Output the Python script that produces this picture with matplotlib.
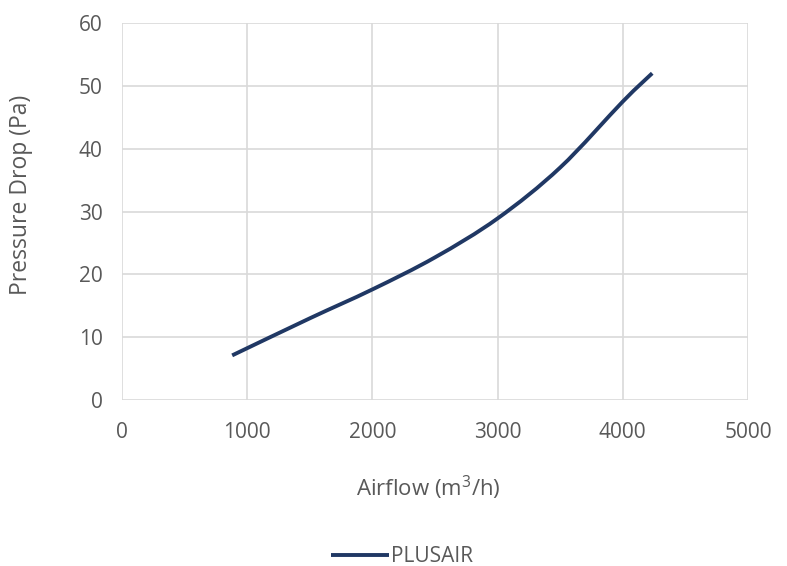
import matplotlib
matplotlib.use("Agg")
import matplotlib.pyplot as plt
from matplotlib.path import Path
from matplotlib.patches import PathPatch
from matplotlib.lines import Line2D
import numpy as np

airflow = [880, 1500, 2000, 2500, 3000, 3500, 4000, 4235]
pressure = [7.1, 13.0, 17.6, 22.7, 28.9, 37.0, 47.5, 52.0]
series_name = "PLUSAIR"

plt.rcParams['font.family'] = ['Open Sans', 'DejaVu Sans']
plt.rcParams['mathtext.fontset'] = 'custom'
plt.rcParams['mathtext.rm'] = 'Open Sans'
gray = '#595959'
navy = '#203864'

fig = plt.figure(figsize=(7.87, 5.66), dpi=100)
ax = fig.add_axes([122/787, 166/566, 626/787, 377/566])

# smooth (Catmull-Rom as Bezier) curve through the data points
P = np.column_stack([airflow, pressure]).astype(float)
ext = np.vstack([P[0], P, P[-1]])
verts = [tuple(P[0])]
codes = [Path.MOVETO]
for i in range(len(P) - 1):
    p0, p1, p2, p3 = ext[i], ext[i + 1], ext[i + 2], ext[i + 3]
    c1 = p1 + (p2 - p0) / 6
    c2 = p2 - (p3 - p1) / 6
    verts += [tuple(c1), tuple(c2), tuple(p2)]
    codes += [Path.CURVE4] * 3
ax.add_patch(PathPatch(Path(verts, codes), fill=False, edgecolor=navy, lw=2.8,
                       capstyle='butt', joinstyle='round'))

ax.set_xlim(0, 5000)
ax.set_ylim(0, 60)
ax.set_xticks(range(0, 5001, 1000))
ax.set_yticks(range(0, 61, 10))
ax.grid(True, color='#d9d9d9', lw=1.2)
ax.set_axisbelow(True)
for s in ax.spines.values():
    s.set_visible(False)
ax.tick_params(length=0, labelsize=15, colors=gray)
ax.tick_params(axis='y', pad=14)
ax.tick_params(axis='x', pad=16)
fig.text(428/787, 1 - 488/566, 'Airflow (m$^3$/h)', fontsize=16, color=gray,
         ha='center', va='center')
fig.text(21/787, 1 - 195/566, 'Pressure Drop (Pa)', fontsize=16.5, color=gray,
         ha='center', va='center', rotation=90)

handle = Line2D([], [], color=navy, lw=2.8, solid_capstyle='butt')
leg = fig.legend([handle], [series_name], loc='center',
                 bbox_to_anchor=(402/787, 1 - 557/566), frameon=False,
                 fontsize=15, handlelength=2.8, handletextpad=0.1)
for t in leg.get_texts():
    t.set_color(gray)
fig.savefig('out.png', dpi=100)
